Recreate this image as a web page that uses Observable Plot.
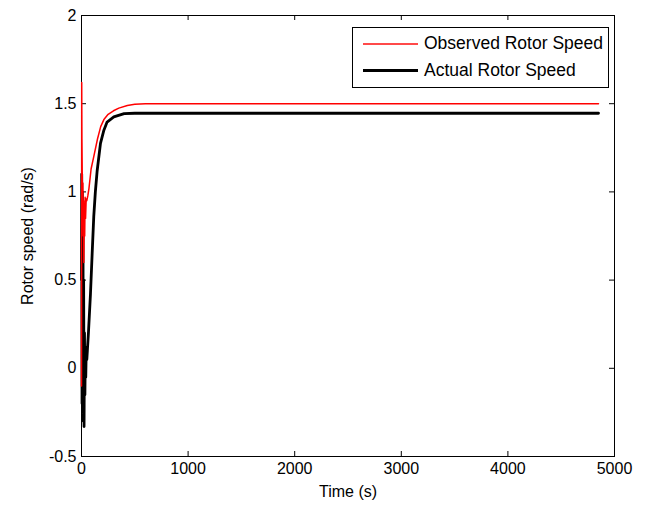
<!DOCTYPE html>
<html>
<head>
<meta charset="utf-8">
<script src="https://cdn.jsdelivr.net/npm/d3@7"></script>
<script src="https://cdn.jsdelivr.net/npm/@observablehq/plot@0.6"></script>
<style>
  html, body { margin: 0; padding: 0; background: #fff; }
  #wrap { position: relative; width: 649px; height: 507px; font-family: "Liberation Sans", Arial, sans-serif; }
  #legend { position: absolute; left: 352px; top: 27px; width: 257px; height: 61px; border: 1px solid #000; background: #fff; box-sizing: border-box; }
  .lg { position: absolute; left: 0; height: 20px; font-size: 17.5px; line-height: 20px; color: #000; }
  .lg span.line { position: absolute; left: 10px; width: 55px; top: 10px; display: block; }
  .lg span.txt { position: absolute; left: 71px; white-space: nowrap; top: 0; }
</style>
</head>
<body>
<div id="wrap">
  <div id="chart"></div>
  <div id="legend">
    <div class="lg" style="top:5px;"><span class="line" style="height:2px;background:#ff4a4a;"></span><span class="txt">Observed Rotor Speed</span></div>
    <div class="lg" style="top:32px;"><span class="line" style="height:3px;background:#000;top:9px;"></span><span class="txt">Actual Rotor Speed</span></div>
  </div>
</div>
<script>
// Observed rotor speed (red)
const obsTime  = [0, 2, 4, 7, 10, 13, 16, 19, 22, 26, 30, 34, 38, 44, 50, 60, 70, 90, 115, 150, 180, 210, 250, 300, 350, 430, 500, 600, 4850];
const obsSpeed = [-0.1, 1.62, 1.3, 1.1, 0.9, 1.05, 0.75, 0.95, 0.6, 0.9, 0.75, 0.97, 0.85, 0.96, 0.95, 0.98, 1.02, 1.13, 1.2, 1.3, 1.37, 1.41, 1.44, 1.46, 1.475, 1.49, 1.497, 1.5, 1.5];

// Actual rotor speed (black)
const actTime  = [0, 2, 5, 8, 11, 14, 17, 20, 24, 28, 32, 36, 40, 45, 50, 55, 65, 84, 100, 115, 130, 147, 178, 210, 240, 303, 400, 500, 4850];
const actSpeed = [0.5, 1.1, -0.2, 1.0, -0.25, 0.8, -0.3, 0.5, -0.33, 0.2, -0.15, 0.1, -0.05, 0.12, 0.05, 0.1, 0.2, 0.42, 0.65, 0.86, 1.0, 1.12, 1.275, 1.35, 1.396, 1.425, 1.444, 1.446, 1.446];

const xTicks = [0, 1000, 2000, 3000, 4000, 5000];
const yTicks = [-0.5, 0, 0.5, 1, 1.5, 2];

const obs = obsTime.map((t, i) => ({t, v: obsSpeed[i]}));
const act = actTime.map((t, i) => ({t, v: actSpeed[i]}));

const H = 507, MT = 15, MB = 51, W = 649, ML = 81, MR = 35;
const innerH = H - MT - MB, innerW = W - ML - MR, TL = 5;

const chart = Plot.plot({
  width: W,
  height: H,
  marginLeft: ML,
  marginRight: MR,
  marginTop: MT,
  marginBottom: MB,
  style: { fontFamily: "Liberation Sans, Arial, sans-serif", fontSize: "16px", background: "#fff", color: "#000" },
  x: { domain: [0, 5000] },
  y: { domain: [-0.5, 2] },
  marks: [
    Plot.frame({ stroke: "#000", strokeWidth: 1 }),
    Plot.axisX(xTicks, { anchor: "bottom", tickSize: 0, tickPadding: 6, label: null, fontSize: 16, tickFormat: d => String(d) }),
    Plot.axisY(yTicks, { anchor: "left", tickSize: 0, tickPadding: 5, label: null, fontSize: 16, tickFormat: d => String(d) }),
    // inward ticks on all four sides
    Plot.ruleX(xTicks, { x: d => d, insetTop: innerH - TL, stroke: "#000" }),
    Plot.ruleX(xTicks, { x: d => d, insetBottom: innerH - TL, stroke: "#000" }),
    Plot.ruleY(yTicks, { y: d => d, insetRight: innerW - TL, stroke: "#000" }),
    Plot.ruleY(yTicks, { y: d => d, insetLeft: innerW - TL, stroke: "#000" }),
    Plot.line(act, { x: "t", y: "v", stroke: "#000", strokeWidth: 2.8 }),
    Plot.line(obs, { x: "t", y: "v", stroke: "#ff0000", strokeWidth: 1.5 }),
    Plot.text(["Time (s)"], { frameAnchor: "bottom", dy: 40, fontSize: 16, text: d => d, lineAnchor: "bottom" }),
    Plot.text(["Rotor speed (rad/s)"], { frameAnchor: "left", dx: -54, rotate: -90, textAnchor: "middle", fontSize: 16, text: d => d })
  ]
});
document.getElementById("chart").appendChild(chart);
</script>
</body>
</html>
